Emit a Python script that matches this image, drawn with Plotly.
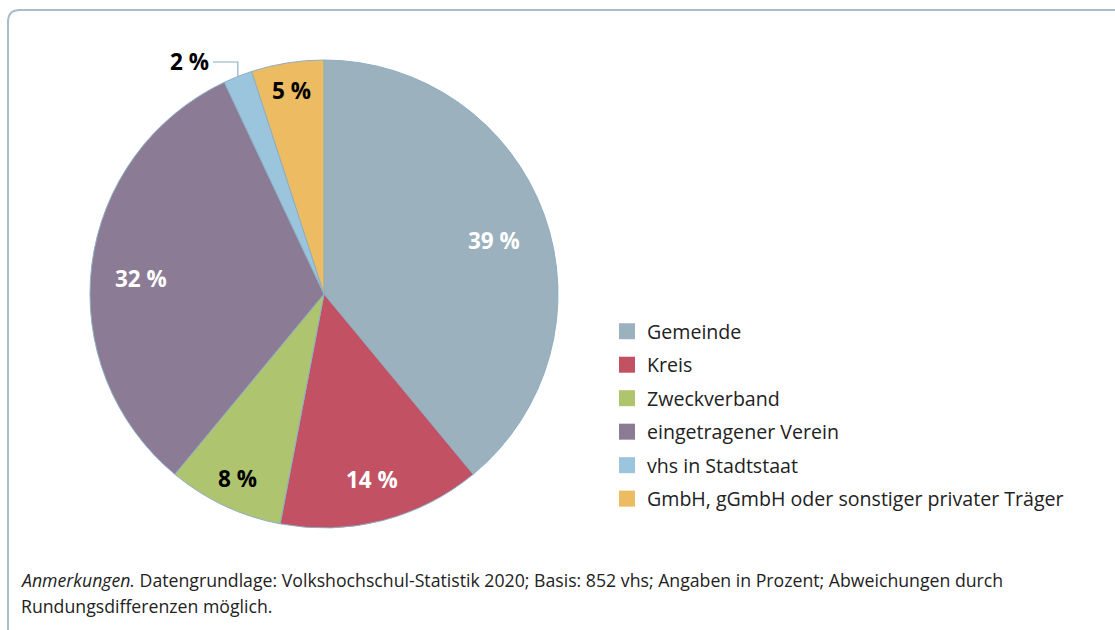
import math
import plotly.graph_objects as go

# ---- data ----
categories = ["Gemeinde", "Kreis", "Zweckverband", "eingetragener Verein",
              "vhs in Stadtstaat", "GmbH, gGmbH oder sonstiger privater Träger"]
values = [39, 14, 8, 32, 2, 5]
slice_labels = ["39 %", "14 %", "8 %", "32 %", "2 %", "5 %"]
note_italic = "Anmerkungen."
note_line1 = " Datengrundlage: Volkshochschul-Statistik 2020; Basis: 852 vhs; Angaben in Prozent; Abweichungen durch"
note_line2 = "Rundungsdifferenzen möglich."

# ---- styles ----
colors = ["#9bb1bd", "#c25263", "#afc46e", "#8b7b94", "#9ac5dc", "#ecbb62"]
label_colors = ["white", "white", "black", "white", "black", "black"]
label_radius = [0.77, 0.82, 0.87, 0.79, None, 0.88]  # fraction of pie radius (None = outside)
label_yshift = [-8, 0, 0, -8, 0, 0]

W, H = 1115, 630
FONT = "Open Sans"
cx, cy, R = 324, 294, 234  # pie centre / radius in px
edge = "#8eaec2"
total = sum(values)

fig = go.Figure()
fig.add_trace(go.Pie(
    labels=categories, values=values, textinfo="none",
    marker=dict(colors=colors, line=dict(color=edge, width=1)),
    sort=False, direction="clockwise", rotation=0,
    domain=dict(x=[(cx - R) / W, (cx + R) / W], y=[(H - cy - R) / H, (H - cy + R) / H]),
    showlegend=False, hoverinfo="label+percent",
))

# legend entries with larger squares
for i, (c, col) in enumerate(zip(categories, colors)):
    fig.add_trace(go.Scatter(
        x=[None], y=[None], mode="markers", name=c, legendgroup=str(i),
        marker=dict(symbol="square", size=16, color=col, line=dict(width=0)),
        showlegend=True, hoverinfo="skip",
    ))

# slice labels positioned from the slice geometry
cum = 0
for v, lab, col, fr, ys in zip(values, slice_labels, label_colors, label_radius, label_yshift):
    mid = 2 * math.pi * (cum + v / 2) / total
    cum += v
    px = cx + R * math.sin(mid)
    py = cy - R * math.cos(mid)
    if fr is not None:
        tx = cx + fr * R * math.sin(mid)
        ty = cy - fr * R * math.cos(mid)
        fig.add_annotation(x=tx / W, y=(H - ty) / H, xref="paper", yref="paper",
                           xanchor="center", yanchor="middle", yshift=ys,
                           showarrow=False, text=f"<b>{lab}</b>",
                           font=dict(family=FONT, size=22.5, color=col))
    else:
        ly = 62
        fig.add_shape(type="path", xref="paper", yref="paper",
                      path=f"M {(px-25)/W},{(H-ly)/H} L {px/W},{(H-ly)/H} L {px/W},{(H-py)/H}",
                      line=dict(color=edge, width=1.2))
        fig.add_annotation(x=(px - 27) / W, y=(H - ly) / H, xref="paper", yref="paper",
                           xanchor="right", yanchor="middle", showarrow=False,
                           text=f"<b>{lab}</b>",
                           font=dict(family=FONT, size=22.5, color=col))

# frame
x0, y0, rr = 8 / W, (H - 10) / H, 12
fig.add_shape(type="path", xref="paper", yref="paper",
              path=(f"M {x0},0 L {x0},{(H-10-rr)/H} Q {x0},{y0} {(8+rr)/W},{y0} L 1.01,{y0}"),
              line=dict(color="#a7bdca", width=2))

# notes
fig.add_annotation(x=19 / W, y=(H - 580) / H, xref="paper", yref="paper",
                   xanchor="left", yanchor="middle", showarrow=False, align="left",
                   text=f"<i>{note_italic}</i>{note_line1}",
                   font=dict(family=FONT, size=17.7, color="#222222"))
fig.add_annotation(x=19 / W, y=(H - 606) / H, xref="paper", yref="paper",
                   xanchor="left", yanchor="middle", showarrow=False, align="left",
                   text=note_line2,
                   font=dict(family=FONT, size=17.7, color="#222222"))

fig.update_layout(
    width=W, height=H, margin=dict(l=0, r=0, t=0, b=0),
    paper_bgcolor="white", plot_bgcolor="white",
    xaxis=dict(visible=False), yaxis=dict(visible=False),
    legend=dict(x=607 / W, y=(H - 312) / H, xanchor="left", yanchor="top",
                font=dict(family=FONT, size=19.6, color="#222222"),
                traceorder="grouped", tracegroupgap=5, bgcolor="rgba(0,0,0,0)",
                itemclick=False, itemdoubleclick=False),
    showlegend=True,
)

fig.write_html("out.html", config={"displayModeBar": False},
               post_script="document.body.style.margin='0';")
